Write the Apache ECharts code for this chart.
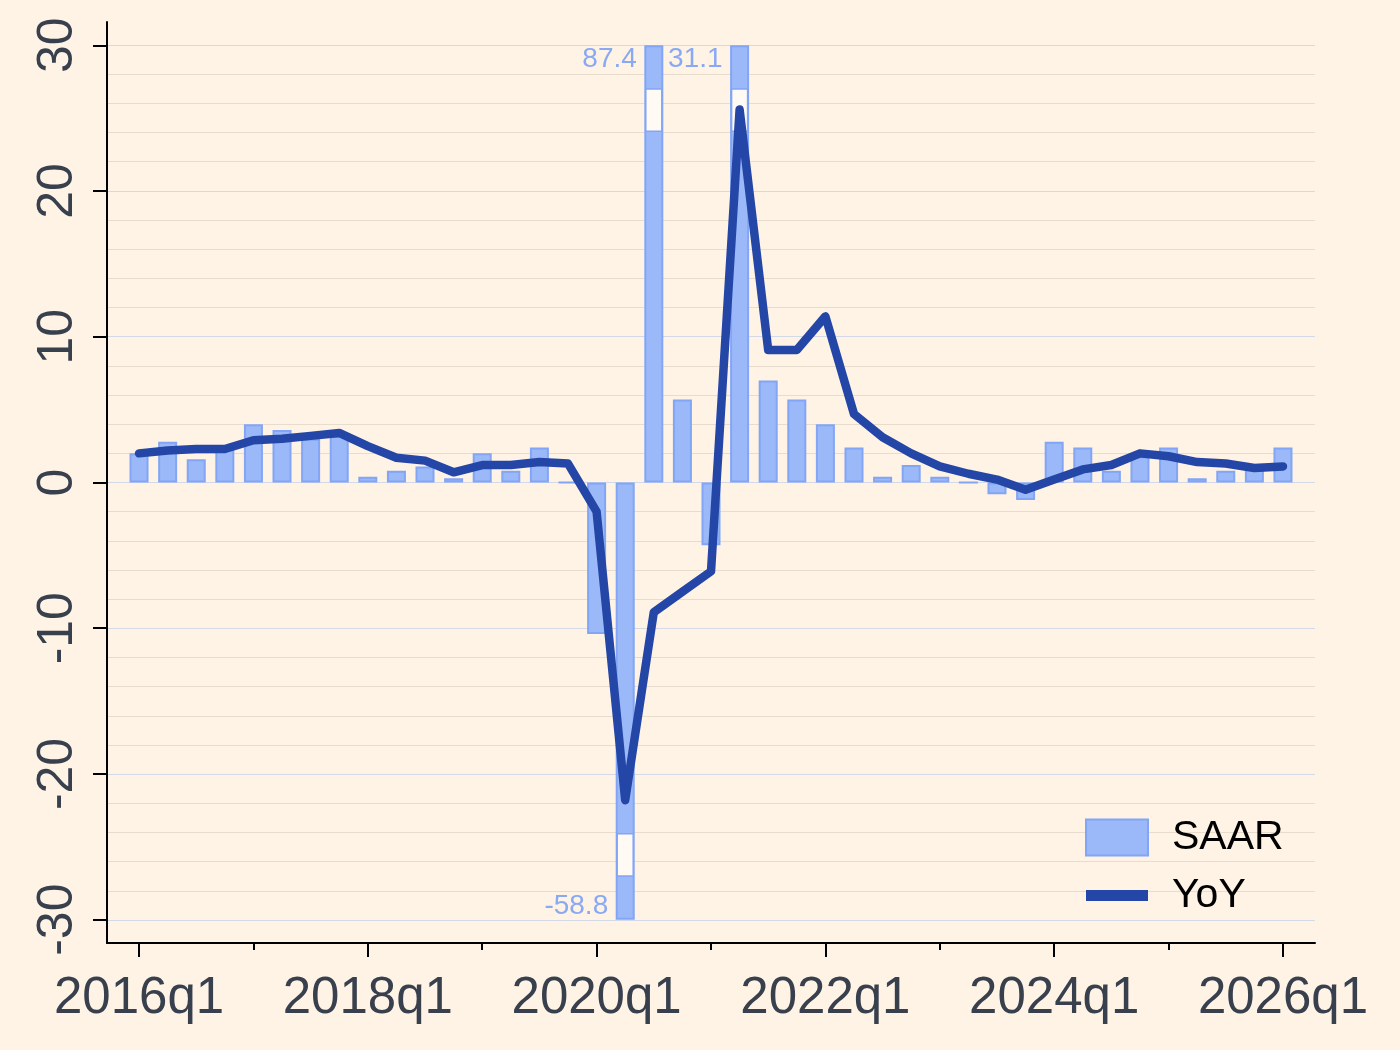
<!DOCTYPE html>
<html>
<head>
<meta charset="UTF-8">
<title>SAAR vs YoY</title>
<style>
  html, body { margin: 0; padding: 0; background: #fef3e5; }
  #chart { width: 1400px; height: 1050px; }
</style>
<script src="https://cdn.jsdelivr.net/npm/echarts@6/dist/echarts.min.js"></script>
</head>
<body>
<div id="chart"></div>
<script>
// quarters 2016q1 .. 2026q1, index 0..40
const saar = [
  2.0, 2.8, 1.6, 2.3,
  4.0, 3.6, 3.0, 3.2,
  0.4, 0.8, 1.1, 0.3,
  2.0, 0.8, 2.4, 0.0,
  -10.4, -58.8, 87.4, 5.7,
  -4.3, 31.1, 7.0, 5.7,
  4.0, 2.4, 0.4, 1.2,
  0.4, 0.0, -0.8, -1.2,
  2.8, 2.4, 0.8, 1.8,
  2.4, 0.3, 0.8, 1.0,
  2.4
];
const yoy = [
  2.0, 2.2, 2.3, 2.3,
  2.9, 3.0, 3.2, 3.4,
  2.5, 1.7, 1.5, 0.7,
  1.2, 1.2, 1.4, 1.3,
  -2.0, -21.8, -8.9, -7.5,
  -6.1, 25.6, 9.1, 9.1,
  11.4, 4.7, 3.1, 2.0,
  1.1, 0.6, 0.2, -0.5,
  0.2, 0.9, 1.2, 2.0,
  1.8, 1.4, 1.3, 1.0,
  1.1
];
const tickIdx = [0, 8, 16, 24, 32, 40];
const tickLabels = ['2016q1', '2018q1', '2020q1', '2022q1', '2024q1', '2026q1'];
const minorTickIdx = [4, 12, 20, 28, 36];
const yTicks = [-30, -20, -10, 0, 10, 20, 30];

const CAP = 30;
const barColor = '#9bb9f9';
const barEdge = '#82a5f5';
const lineColor = '#2446a6';
const textColor = '#383f4d';

const barData = saar.map((v, i) => [i, Math.max(-CAP, Math.min(CAP, v))]);
const rawData = saar.map((v, i) => [i, v]);
const lineData = yoy.map((v, i) => [i, v]);

const chart = echarts.init(document.getElementById('chart'));
chart.setOption({
  backgroundColor: '#fef3e5',
  animation: false,
  grid: [
    { left: 107, right: 85, top: 22, bottom: 107 },
    { left: 107, right: 85, top: 45, bottom: 130 }
  ],
  xAxis: [
    {
      type: 'value', gridIndex: 0, min: -1.12, max: 41.12, position: 'bottom',
      splitLine: { show: false },
      axisLine: { show: true, onZero: false, lineStyle: { color: '#000', width: 2 } },
      axisTick: { show: true, customValues: tickIdx, length: 14, lineStyle: { color: '#000', width: 2 } },
      axisLabel: {
        customValues: tickIdx, margin: 30,
        fontFamily: 'Liberation Sans, Arial, sans-serif', fontSize: 51, color: textColor,
        formatter: v => tickLabels[tickIdx.indexOf(v)]
      }
    },
    {
      type: 'value', gridIndex: 0, min: -1.12, max: 41.12, position: 'bottom',
      splitLine: { show: false },
      axisLine: { show: false, onZero: false },
      axisTick: { show: true, customValues: minorTickIdx, length: 7, lineStyle: { color: '#000', width: 2 } },
      axisLabel: { show: false }
    },
    {
      type: 'value', gridIndex: 1, min: -1.12, max: 41.12, show: false
    }
  ],
  yAxis: [
    {
      type: 'value', gridIndex: 0, min: -31.6, max: 31.6,
      splitLine: { show: false },
      axisLine: { show: true, onZero: false, lineStyle: { color: '#000', width: 2 } },
      axisTick: { show: true, customValues: yTicks, length: 14, lineStyle: { color: '#000', width: 2 } },
      axisLabel: {
        customValues: yTicks, rotate: 90, margin: 24,
        fontFamily: 'Liberation Sans Narrow, Arial Narrow, Liberation Sans, sans-serif',
        fontSize: 50, color: textColor
      }
    },
    {
      type: 'value', gridIndex: 1, min: -30, max: 30, interval: 10,
      axisLine: { show: false }, axisTick: { show: false }, axisLabel: { show: false },
      splitLine: { show: true, lineStyle: { color: '#d3d9e6', width: 1.2 } },
      minorTick: { show: false, splitNumber: 5 },
      minorSplitLine: { show: true, lineStyle: { color: '#e8ddcc', width: 1.2 } }
    }
  ],
  legend: {
    orient: 'vertical', left: 1085, top: 817, padding: 0,
    itemWidth: 62, itemHeight: 36, itemGap: 17, symbolKeepAspect: true,
    textStyle: { fontFamily: 'Liberation Sans, Arial, sans-serif', fontSize: 41, color: '#000', padding: [0, 0, 0, 19] },
    data: [
      { name: 'SAAR', icon: 'rect' },
      { name: 'YoY', icon: 'path://M0,0 H62 V11 H0 Z' }
    ]
  },
  series: [
    {
      name: 'SAAR', type: 'bar', xAxisIndex: 0, yAxisIndex: 0,
      data: barData, barWidth: 19,
      itemStyle: { color: barColor, borderColor: barEdge, borderWidth: 2 },
      z: 2
    },
    {
      name: 'breaks', type: 'custom', xAxisIndex: 0, yAxisIndex: 0,
      data: rawData, z: 3,
      renderItem: (params, api) => {
        const v = api.value(1);
        if (Math.abs(v) <= CAP) return null;
        const idx = api.value(0);
        const s = v > 0 ? 1 : -1;
        const a = api.coord([idx, s * 27.0]);
        const b = api.coord([idx, s * 24.1]);
        const t = api.coord([idx, s * 29.05]);
        return {
          type: 'group',
          children: [
            {
              type: 'rect',
              shape: { x: a[0] - 8, y: Math.min(a[1], b[1]), width: 16, height: Math.abs(a[1] - b[1]) },
              style: { fill: '#fffaf3', stroke: barEdge, lineWidth: 1.5 }
            },
            {
              type: 'text',
              x: t[0] - 17, y: t[1],
              style: {
                text: String(v), align: 'right', verticalAlign: 'middle',
                fontFamily: 'Liberation Sans, Arial, sans-serif', fontSize: 28, fill: '#8aa9f3'
              }
            }
          ]
        };
      }
    },
    {
      name: 'YoY', type: 'line', xAxisIndex: 0, yAxisIndex: 0,
      data: lineData, symbol: 'none', showSymbol: false,
      lineStyle: { color: lineColor, width: 8.5, cap: 'round', join: 'round' },
      itemStyle: { color: lineColor },
      z: 4
    }
  ]
});
</script>
</body>
</html>
